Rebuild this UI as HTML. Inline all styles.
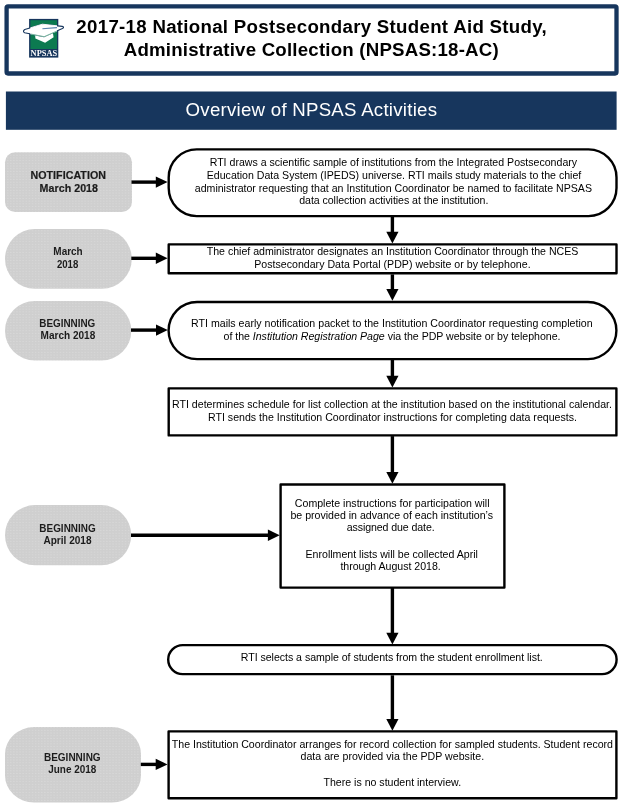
<!DOCTYPE html>
<html lang="en"><head><meta charset="utf-8"><title>NPSAS:18-AC Overview of NPSAS Activities</title>
<style>
html,body{margin:0;padding:0;background:#fff;}
body{width:622px;height:804px;overflow:hidden;}
svg{display:block;will-change:transform;font-family:"Liberation Sans",sans-serif;}
.b{font-size:10.6px;fill:#000;text-anchor:middle;}
.l{font-size:10.67px;font-weight:bold;fill:#1c1c1c;stroke:#1c1c1c;stroke-width:0.2;text-anchor:middle;}
.l2{font-size:10px;font-weight:bold;fill:#1c1c1c;text-anchor:middle;}
.t{font-size:18.67px;font-weight:bold;fill:#000;text-anchor:middle;}
.bn{font-size:18.67px;fill:#fff;text-anchor:middle;}
.box{fill:#fff;stroke:#000;stroke-width:2.4;stroke-linejoin:round;}
.lab{fill:url(#dots);}
.ln{stroke:#000;stroke-width:3.4;fill:none;}
.ah{fill:#000;}
</style></head><body>
<svg width="622" height="804" viewBox="0 0 622 804">
<g>
<rect x="6.6" y="6.4" width="609.9" height="67.1" rx="1.4" fill="#fff" stroke="#17365d" stroke-width="4.3"/>
<defs><pattern id="dots" width="3.1" height="2.7" patternUnits="userSpaceOnUse"><rect width="3.1" height="2.7" fill="#cfcfcf"/><circle cx="1.5" cy="1.3" r="0.55" fill="#dcdcdc"/></pattern></defs>
<g>
<rect x="29.1" y="18.9" width="29.2" height="38.7" fill="#17365d"/>
<rect x="30.4" y="20.2" width="26.6" height="28.8" fill="#0c7a50"/>
<path d="M35 34 L35.4 38.4 L45.1 42.7 L53.6 37.3 L52.9 33 Z" fill="#fff"/>
<defs><clipPath id="gc"><rect x="30.4" y="20.2" width="26.6" height="28.8"/></clipPath></defs>
<path d="M24.8 29.5 L42.4 24.2 L62.2 26.4 Q64.8 27.2 62.4 28.6 L44.2 36.6 L24.6 32.8 Q22.2 31.2 24.8 29.5 Z" fill="#fff" stroke="#17365d" stroke-width="1.1" stroke-linejoin="round"/>
<g clip-path="url(#gc)"><path d="M24.8 29.5 L42.4 24.2 L62.2 26.4 Q64.8 27.2 62.4 28.6 L44.2 36.6 L24.6 32.8 Q22.2 31.2 24.8 29.5 Z" fill="#fff" stroke="#fff" stroke-width="0.9" stroke-linejoin="round"/>
<path d="M31 34.1 L44.2 36.7 L57 31" fill="none" stroke="#3f9877" stroke-width="0.7"/></g>
<path d="M42.4 28.8 L57 27.6" stroke="#5a82ad" stroke-width="1.1" fill="none"/>
<text x="43.9" y="55.9" text-anchor="middle" textLength="26.6" lengthAdjust="spacingAndGlyphs" style="font-family:'Liberation Serif',serif;font-weight:bold;font-size:7.6px;fill:#fff">NPSAS</text>
</g>
<text class="t" x="311.5" y="32.7" textLength="470.3" lengthAdjust="spacing">2017-18 National Postsecondary Student Aid Study,</text>
<text class="t" x="311.2" y="55.8" textLength="375.0" lengthAdjust="spacing">Administrative Collection (NPSAS:18-AC)</text>
<rect x="5.9" y="91.5" width="610.7" height="38.3" fill="#17365d"/>
<text class="bn" x="311.3" y="115.5" textLength="251.4" lengthAdjust="spacing">Overview of NPSAS Activities</text>
<rect class="lab" x="5" y="152.3" width="127" height="59.7" rx="10" ry="10"/>
<rect class="lab" x="5" y="229" width="126.8" height="59.7" rx="29.8" ry="29.8"/>
<rect class="lab" x="5" y="300.9" width="126.3" height="59.7" rx="29.8" ry="29.8"/>
<rect class="lab" x="5" y="505.1" width="126.2" height="60.1" rx="30" ry="30"/>
<rect class="lab" x="5" y="727.1" width="136" height="75.4" rx="29" ry="27"/>
<text class="l" x="68.2" y="178.8" textLength="75.6" lengthAdjust="spacing">NOTIFICATION</text>
<text class="l" x="68.8" y="191.7" textLength="58.4" lengthAdjust="spacing">March 2018</text>
<text class="l2" x="68.0" y="254.9" textLength="29.3" lengthAdjust="spacingAndGlyphs">March</text>
<text class="l2" x="67.6" y="267.9" textLength="21.4" lengthAdjust="spacingAndGlyphs">2018</text>
<text class="l2" x="67.3" y="326.7" textLength="56.0" lengthAdjust="spacingAndGlyphs">BEGINNING</text>
<text class="l2" x="67.9" y="338.6" textLength="54.7" lengthAdjust="spacingAndGlyphs">March 2018</text>
<text class="l2" x="67.5" y="531.7" textLength="56.3" lengthAdjust="spacingAndGlyphs">BEGINNING</text>
<text class="l2" x="67.5" y="543.8" textLength="48.2" lengthAdjust="spacingAndGlyphs">April 2018</text>
<text class="l2" x="72.3" y="760.5" textLength="56.7" lengthAdjust="spacingAndGlyphs">BEGINNING</text>
<text class="l2" x="72.3" y="772.7" textLength="48.1" lengthAdjust="spacingAndGlyphs">June 2018</text>
<rect class="box" x="168.7" y="149.4" width="447.8" height="66.7" rx="28.0" ry="28.0"/>
<rect class="box" x="168.7" y="244.4" width="447.8" height="28.9" rx="0.0" ry="0.0"/>
<rect class="box" x="168.6" y="302.0" width="447.8" height="57.1" rx="28.5" ry="28.5"/>
<rect class="box" x="168.7" y="388.4" width="447.7" height="47.0" rx="0.0" ry="0.0"/>
<rect class="box" x="280.6" y="484.5" width="223.8" height="103.1" rx="0.0" ry="0.0"/>
<rect class="box" x="168.2" y="645.1" width="448.4" height="29.0" rx="14.5" ry="14.5"/>
<rect class="box" x="168.6" y="731.4" width="447.8" height="66.9" rx="0.0" ry="0.0"/>
<path class="ln" d="M131.5 182.1 H158.6"/>
<path class="ah" d="M155.8 176.4 L167.6 182.1 L155.8 187.8 Z"/>
<path class="ln" d="M131.3 258.3 H158.6"/>
<path class="ah" d="M155.8 252.6 L167.6 258.3 L155.8 264.0 Z"/>
<path class="ln" d="M131.0 330.1 H158.8"/>
<path class="ah" d="M156.0 324.4 L167.8 330.1 L156.0 335.8 Z"/>
<path class="ln" d="M131.0 535.3 H270.7"/>
<path class="ah" d="M267.9 529.6 L279.7 535.3 L267.9 541.0 Z"/>
<path class="ln" d="M140.8 764.4 H158.5"/>
<path class="ah" d="M155.7 758.7 L167.5 764.4 L155.7 770.1 Z"/>
<path class="ln" d="M392.4 217.0 V234.6"/>
<path class="ah" d="M386.3 231.8 L392.4 243.6 L398.5 231.8 Z"/>
<path class="ln" d="M392.4 274.4 V291.7"/>
<path class="ah" d="M386.3 288.9 L392.4 300.7 L398.5 288.9 Z"/>
<path class="ln" d="M392.4 359.5 V378.6"/>
<path class="ah" d="M386.3 375.8 L392.4 387.6 L398.5 375.8 Z"/>
<path class="ln" d="M392.4 436.1 V474.8"/>
<path class="ah" d="M386.3 472.0 L392.4 483.8 L398.5 472.0 Z"/>
<path class="ln" d="M392.4 587.4 V635.5"/>
<path class="ah" d="M386.3 632.7 L392.4 644.5 L398.5 632.7 Z"/>
<path class="ln" d="M392.4 675.3 V721.8"/>
<path class="ah" d="M386.3 719.0 L392.4 730.8 L398.5 719.0 Z"/>
<text class="b" x="393.4" y="165.8" textLength="367.4" lengthAdjust="spacing">RTI draws a scientific sample of institutions from the Integrated Postsecondary</text>
<text class="b" x="394.0" y="179.0" textLength="374.5" lengthAdjust="spacing">Education Data System (IPEDS) universe. RTI mails study materials to the chief</text>
<text class="b" x="393.4" y="191.7" textLength="397.2" lengthAdjust="spacing">administrator requesting that an Institution Coordinator be named to facilitate NPSAS</text>
<text class="b" x="393.8" y="203.8" textLength="189.2" lengthAdjust="spacing">data collection activities at the institution.</text>
<text class="b" x="392.5" y="254.6" textLength="371.6" lengthAdjust="spacing">The chief administrator designates an Institution Coordinator through the NCES</text>
<text class="b" x="392.4" y="267.6" textLength="276.4" lengthAdjust="spacing">Postsecondary Data Portal (PDP) website or by telephone.</text>
<text class="b" x="391.8" y="326.7" textLength="401.5" lengthAdjust="spacing">RTI mails early notification packet to the Institution Coordinator requesting completion</text>
<text class="b" x="392.0" y="339.5" textLength="337.0" lengthAdjust="spacing">of the <tspan font-style="italic">Institution Registration Page</tspan> via the PDP website or by telephone.</text>
<text class="b" x="392.0" y="407.5" textLength="440.0" lengthAdjust="spacing">RTI determines schedule for list collection at the institution based on the institutional calendar.</text>
<text class="b" x="392.5" y="421.0" textLength="369.0" lengthAdjust="spacing">RTI sends the Institution Coordinator instructions for completing data requests.</text>
<text class="b" x="392.2" y="506.5" textLength="194.7" lengthAdjust="spacing">Complete instructions for participation will</text>
<text class="b" x="391.7" y="518.5" textLength="202.6" lengthAdjust="spacing">be provided in advance of each institution’s</text>
<text class="b" x="390.7" y="531.1" textLength="88.0" lengthAdjust="spacing">assigned due date.</text>
<text class="b" x="391.7" y="558.3" textLength="172.4" lengthAdjust="spacing">Enrollment lists will be collected April</text>
<text class="b" x="390.6" y="569.5" textLength="100.4" lengthAdjust="spacing">through August 2018.</text>
<text class="b" x="391.8" y="660.7" textLength="302.0" lengthAdjust="spacing">RTI selects a sample of students from the student enrollment list.</text>
<text class="b" x="392.4" y="747.7" textLength="441.2" lengthAdjust="spacing">The Institution Coordinator arranges for record collection for sampled students. Student record</text>
<text class="b" x="392.3" y="760.4" textLength="183.6" lengthAdjust="spacing">data are provided via the PDP website.</text>
<text class="b" x="392.3" y="785.8" textLength="137.6" lengthAdjust="spacing">There is no student interview.</text>
</g>
</svg></body></html>
